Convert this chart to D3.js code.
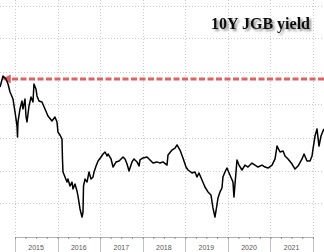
<!DOCTYPE html>
<html><head><meta charset="utf-8">
<script src="https://cdn.jsdelivr.net/npm/d3@7"></script>
<style>html,body{margin:0;padding:0;background:#fff;}svg{display:block;}</style>
</head><body>
<script>
// decimal-year dates and 10Y JGB yield (%)
const dates = [2014.648,2014.718,2014.789,2014.836,2014.883,2014.953,2015.000,2015.047,2015.059,2015.070,2015.117,2015.164,2015.188,2015.235,2015.258,2015.282,2015.329,2015.376,2015.423,2015.446,2015.493,2015.517,2015.564,2015.634,2015.705,2015.775,2015.869,2015.940,2015.987,2016.010,2016.057,2016.104,2016.116,2016.128,2016.175,2016.222,2016.245,2016.292,2016.339,2016.362,2016.409,2016.456,2016.480,2016.527,2016.574,2016.597,2016.609,2016.644,2016.691,2016.738,2016.785,2016.832,2016.856,2016.903,2016.950,2017.020,2017.067,2017.114,2017.161,2017.185,2017.255,2017.302,2017.373,2017.443,2017.537,2017.584,2017.631,2017.678,2017.748,2017.795,2017.866,2017.913,2017.936,2018.007,2018.101,2018.171,2018.242,2018.336,2018.406,2018.477,2018.571,2018.594,2018.688,2018.759,2018.806,2018.876,2018.946,2019.017,2019.064,2019.158,2019.228,2019.275,2019.322,2019.393,2019.463,2019.534,2019.604,2019.651,2019.698,2019.745,2019.769,2019.816,2019.863,2019.886,2019.933,2019.980,2020.050,2020.121,2020.144,2020.215,2020.262,2020.332,2020.403,2020.473,2020.567,2020.638,2020.708,2020.802,2020.873,2020.943,2021.037,2021.108,2021.154,2021.225,2021.296,2021.342,2021.413,2021.508,2021.577,2021.648,2021.742,2021.789,2021.859,2021.930,2021.977,2022.000,2022.047,2022.094,2022.141,2022.188,2022.235,2022.259];
const yields = [0.506,0.573,0.555,0.524,0.476,0.433,0.355,0.270,0.203,0.294,0.373,0.421,0.373,0.433,0.330,0.294,0.391,0.445,0.415,0.524,0.494,0.452,0.421,0.415,0.373,0.330,0.300,0.324,0.294,0.233,0.215,0.191,0.070,-0.009,-0.039,-0.070,-0.052,-0.094,-0.070,-0.112,-0.082,-0.124,-0.155,-0.233,-0.282,-0.252,-0.094,-0.052,-0.070,-0.009,-0.052,-0.039,-0.009,0.027,0.058,0.082,0.100,0.112,0.088,0.100,0.070,0.021,0.052,0.058,0.082,0.070,0.039,-0.003,0.052,0.070,0.052,0.027,0.064,0.076,0.082,0.064,0.045,0.052,0.045,0.052,0.033,0.094,0.124,0.136,0.155,0.124,0.076,0.021,0.003,-0.015,-0.009,-0.039,-0.015,-0.058,-0.100,-0.130,-0.148,-0.227,-0.282,-0.209,-0.167,-0.130,-0.106,-0.039,-0.009,0.015,-0.027,-0.070,-0.161,0.064,0.033,0.003,0.033,0.021,0.045,0.033,0.021,0.033,0.021,0.015,0.033,0.070,0.148,0.112,0.118,0.088,0.070,0.039,0.009,0.027,0.070,0.100,0.058,0.058,0.088,0.130,0.209,0.252,0.148,0.209,0.239,0.252];
const yearLabels = ["2015","2016","2017","2018","2019","2020","2021"];
const gridValues = [-0.2,0,0.2,0.4,0.6,0.8,1.0];
const refLevel = [0.555];
const titleText = "10Y JGB yield";

const W = 324, H = 252;
const toDate = t => { const y = Math.floor(t); const s = new Date(y,0,1), e = new Date(y+1,0,1); return new Date(+s + (t - y) * (e - s)); };
const data = dates.map((d,i) => ({date: toDate(d), v: yields[i]}));

const x = d3.scaleTime().domain([new Date(2015,0,1), new Date(2022,0,1)]).range([15, 313]);
const y = d3.scaleLinear().domain([-0.4, 1.0]).range([236.5, 5.5]);

const svg = d3.select("body").append("svg").attr("width", W).attr("height", H);

const defs = svg.append("defs");
const f = defs.append("filter").attr("id","sh").attr("x","-10%").attr("y","-30%").attr("width","130%").attr("height","180%");
f.append("feDropShadow").attr("dx",2).attr("dy",2).attr("stdDeviation",1.2).attr("flood-color","#000").attr("flood-opacity",0.45);
defs.append("marker").attr("id","arr").attr("viewBox","0 0 10 10").attr("refX",2).attr("refY",5)
  .attr("markerWidth",3).attr("markerHeight",3).attr("orient","auto-start-reverse")
  .append("path").attr("d","M0,0 L10,5 L0,10 z").attr("fill","#d9474a").attr("fill-opacity",0.85);

// horizontal grid
svg.append("g").selectAll("line").data(gridValues).join("line")
  .attr("x1",0).attr("x2",W).attr("y1",d=>Math.round(y(d))+0.5).attr("y2",d=>Math.round(y(d))+0.5)
  .attr("stroke","#c8c8c8").attr("stroke-width",1).attr("stroke-dasharray","1,2");

// vertical grid at year boundaries
const years = d3.timeYear.range(new Date(2015,0,1), new Date(2022,0,2));
svg.append("g").selectAll("line").data(years).join("line")
  .attr("x1",d=>Math.round(x(d))+0.5).attr("x2",d=>Math.round(x(d))+0.5).attr("y1",0).attr("y2",236)
  .attr("stroke","#c8c8c8").attr("stroke-width",1).attr("stroke-dasharray","1,2");
svg.append("g").selectAll("line").data(years).join("line")
  .attr("x1",d=>Math.round(x(d))+0.5).attr("x2",d=>Math.round(x(d))+0.5).attr("y1",237).attr("y2",H)
  .attr("stroke","#c0c0c0").attr("stroke-width",1);

// bottom axis
const ax = svg.append("g").attr("transform","translate(0,237)")
  .call(d3.axisBottom(x).ticks(d3.timeMonth.every(3)).tickSize(2).tickFormat(""));
ax.select(".domain").attr("stroke","#b0b0b0");
ax.selectAll(".tick line").attr("stroke","#909090");

svg.append("g").selectAll("text").data(yearLabels).join("text")
  .attr("x",d=>x(new Date(+d,6,1))).attr("y",249.5).attr("text-anchor","middle")
  .attr("font-family","Liberation Sans, Arial, sans-serif").attr("font-size",7).attr("fill","#555")
  .text(d=>d);

// reference dashed line with arrow
svg.append("line").data(refLevel)
  .attr("x1",W).attr("x2",9).attr("y1",d=>y(d)).attr("y2",d=>y(d))
  .attr("stroke","#d9474a").attr("stroke-opacity",0.85).attr("stroke-width",3)
  .attr("stroke-dasharray","6,2.5").attr("marker-end","url(#arr)");

// yield line
svg.append("path").datum(data)
  .attr("d", d3.line().x(d=>x(d.date)).y(d=>y(d.v)))
  .attr("fill","none").attr("stroke","#000").attr("stroke-width",1.5).attr("stroke-linejoin","round");

// title
svg.append("text").attr("x",310).attr("y",29).attr("text-anchor","end")
  .attr("font-family","Liberation Serif, Times New Roman, serif").attr("font-weight","bold")
  .attr("font-size",16).attr("fill","#111").attr("filter","url(#sh)").text(titleText);
</script>
</body></html>
